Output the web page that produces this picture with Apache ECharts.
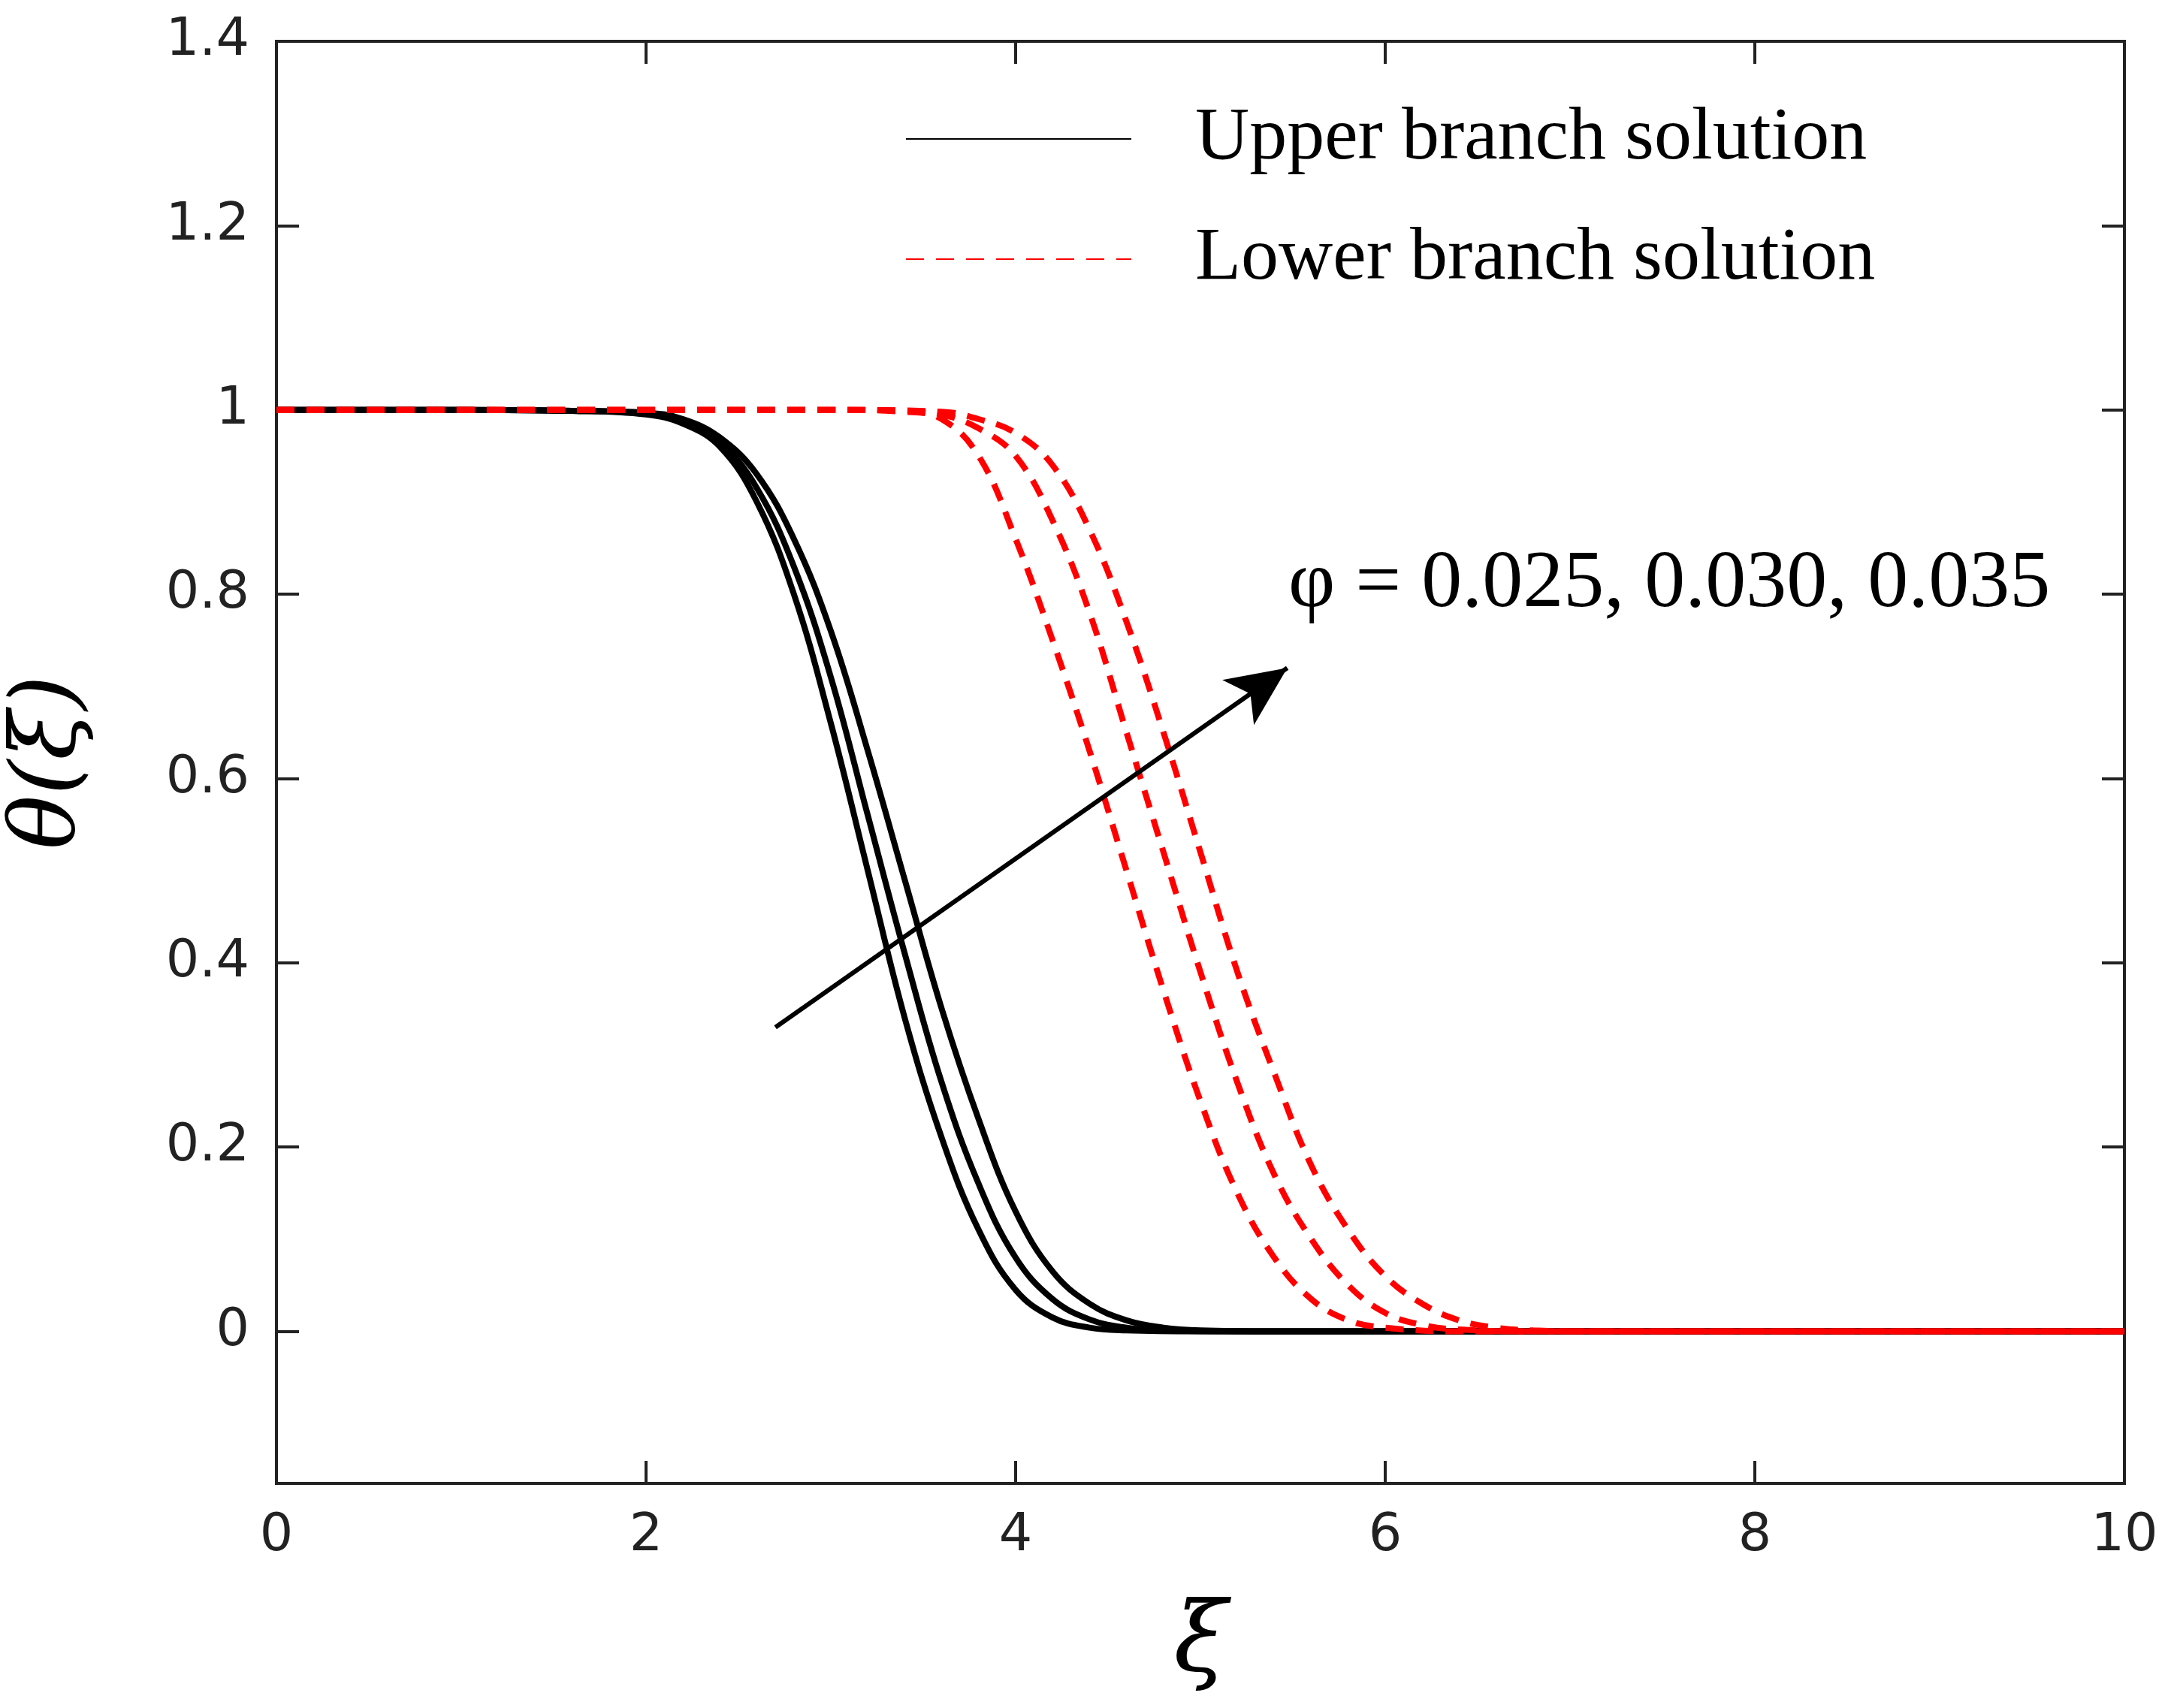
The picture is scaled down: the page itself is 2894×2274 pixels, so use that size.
<!DOCTYPE html>
<html>
<head>
<meta charset="utf-8">
<script src="https://cdn.jsdelivr.net/npm/echarts@6/dist/echarts.min.js"></script>
<style>html,body{margin:0;padding:0;background:#fff}#main{width:2894px;height:2274px}</style>
</head>
<body>
<div id="main"></div>
<script>
// upper branch (solid, black), phi = 0.025, 0.030, 0.035
var upper1 = [[0,1],[1,1],[1.6,0.999],[2,0.995],[2.2,0.985],[2.4,0.96],[2.6,0.9],[2.8,0.8],[3,0.66],[3.2,0.5],[3.4,0.34],[3.6,0.21],[3.8,0.11],[4,0.045],[4.2,0.015],[4.4,0.004],[4.6,0.001],[5,0],[10,0]];
var upper2 = [[0,1],[1,1],[1.6,0.999],[2,0.996],[2.2,0.988],[2.4,0.965],[2.6,0.915],[2.8,0.83],[3,0.71],[3.2,0.56],[3.4,0.41],[3.6,0.27],[3.8,0.16],[4,0.08],[4.2,0.035],[4.4,0.013],[4.6,0.004],[4.8,0.001],[5.2,0],[10,0]];
var upper3 = [[0,1],[1,1],[1.6,0.999],[2,0.997],[2.2,0.99],[2.4,0.97],[2.6,0.93],[2.8,0.86],[3,0.76],[3.2,0.63],[3.4,0.49],[3.6,0.35],[3.8,0.23],[4,0.13],[4.2,0.065],[4.4,0.03],[4.6,0.012],[4.8,0.004],[5,0.001],[5.4,0],[10,0]];
// lower branch (dashed, red)
var lower1 = [[0,1],[2,1],[3,1],[3.4,0.998],[3.6,0.99],[3.8,0.95],[4,0.86],[4.2,0.75],[4.4,0.63],[4.6,0.5],[4.8,0.37],[5,0.25],[5.2,0.15],[5.4,0.08],[5.6,0.035],[5.8,0.012],[6,0.004],[6.4,0],[10,0]];
var lower2 = [[0,1],[2,1],[3,1],[3.4,0.999],[3.6,0.995],[3.8,0.98],[4,0.95],[4.2,0.88],[4.4,0.78],[4.6,0.65],[4.8,0.52],[5,0.39],[5.2,0.27],[5.4,0.17],[5.6,0.1],[5.8,0.05],[6,0.02],[6.2,0.007],[6.4,0.002],[6.8,0],[10,0]];
var lower3 = [[0,1],[2,1],[3,1],[3.6,0.998],[3.8,0.99],[4,0.975],[4.2,0.94],[4.4,0.87],[4.6,0.77],[4.8,0.65],[5,0.52],[5.2,0.39],[5.4,0.28],[5.6,0.18],[5.8,0.11],[6,0.06],[6.2,0.03],[6.4,0.012],[6.6,0.004],[6.8,0.001],[7.2,0],[10,0]];
var yTicks = [0, 0.2, 0.4, 0.6, 0.8, 1, 1.2, 1.4];
var arrowFrom = [2.7, 0.33];
var arrowTo = [5.47, 0.72];

var myChart = echarts.init(document.getElementById('main'));
var tickStyle = {inside: true, length: 30, lineStyle: {color: '#222', width: 4}};
var solid = {type: 'line', smooth: 0.4, showSymbol: false, symbol: 'none', z: 2,
    lineStyle: {color: '#000', width: 8}, itemStyle: {color: '#000'}};
var dashed = {type: 'line', smooth: 0.4, showSymbol: false, symbol: 'none', z: 3,
    lineStyle: {color: '#ff0000', width: 8, type: [24, 16]}, itemStyle: {color: '#ff0000'}};

var option = {
    animation: false,
    backgroundColor: '#fff',
    grid: {left: 356, right: 66, top: 55, bottom: 299, show: true, borderColor: '#222', borderWidth: 4},
    legend: {
        data: ['Upper branch solution', 'Lower branch solution'],
        orient: 'vertical', left: 1200, top: 130, itemGap: 60,
        itemWidth: 300, itemHeight: 30,
        itemStyle: {color: 'transparent', borderColor: 'transparent', borderWidth: 0},
        textStyle: {fontFamily: 'Liberation Serif', fontSize: 100, color: '#000', padding: [0, 0, 0, 80]}
    },
    xAxis: [{
        type: 'value', min: 0, max: 10, interval: 2,
        name: 'ξ', nameLocation: 'middle', nameGap: 150,
        nameTextStyle: {fontFamily: 'DejaVu Serif', fontStyle: 'italic', fontSize: 130, color: '#000'},
        axisLine: {onZero: false, lineStyle: {color: '#222', width: 4}},
        axisTick: tickStyle, splitLine: {show: false},
        axisLabel: {fontFamily: 'DejaVu Sans', fontSize: 70, color: '#222', margin: 36}
    }, {
        type: 'value', min: 0, max: 10, interval: 2, position: 'top',
        axisLine: {onZero: false, lineStyle: {color: '#222', width: 4}},
        axisTick: tickStyle, axisLabel: {show: false}, splitLine: {show: false}
    }],
    yAxis: [{
        type: 'value', min: -0.165, max: 1.4,
        name: 'θ(ξ)', nameLocation: 'middle', nameGap: 240, nameRotate: 90,
        nameTextStyle: {fontFamily: 'DejaVu Serif', fontStyle: 'italic', fontSize: 120, color: '#000'},
        axisLine: {onZero: false, lineStyle: {color: '#222', width: 4}},
        axisTick: Object.assign({customValues: yTicks}, tickStyle), splitLine: {show: false},
        axisLabel: {customValues: yTicks, fontFamily: 'DejaVu Sans', fontSize: 70, color: '#222', margin: 36,
            formatter: function (v) { return String(Math.round(v * 10) / 10); }}
    }, {
        type: 'value', min: -0.165, max: 1.4, position: 'right',
        axisLine: {show: true, onZero: false, lineStyle: {color: '#222', width: 4}},
        axisTick: Object.assign({customValues: yTicks}, tickStyle),
        axisLabel: {show: false}, splitLine: {show: false}
    }],
    series: [
        Object.assign({name: 'Upper branch solution', data: upper1,
            markLine: {silent: true, symbol: ['none', 'arrow'], symbolSize: [55, 80], label: {show: false},
                lineStyle: {color: '#000', width: 6, type: 'solid'},
                data: [[{coord: arrowFrom}, {coord: arrowTo}]]}}, solid),
        Object.assign({name: 'Upper branch solution', data: upper2}, solid),
        Object.assign({name: 'Upper branch solution', data: upper3}, solid),
        Object.assign({name: 'Lower branch solution', data: lower1}, dashed),
        Object.assign({name: 'Lower branch solution', data: lower2}, dashed),
        Object.assign({name: 'Lower branch solution', data: lower3}, dashed)
    ],
    graphic: [{
        type: 'text', left: 1715, top: 725,
        style: {text: 'φ = 0.025, 0.030, 0.035', fontFamily: 'Liberation Serif', fontSize: 108, fill: '#000'}
    }]
};
myChart.setOption(option);
</script>
</body>
</html>
